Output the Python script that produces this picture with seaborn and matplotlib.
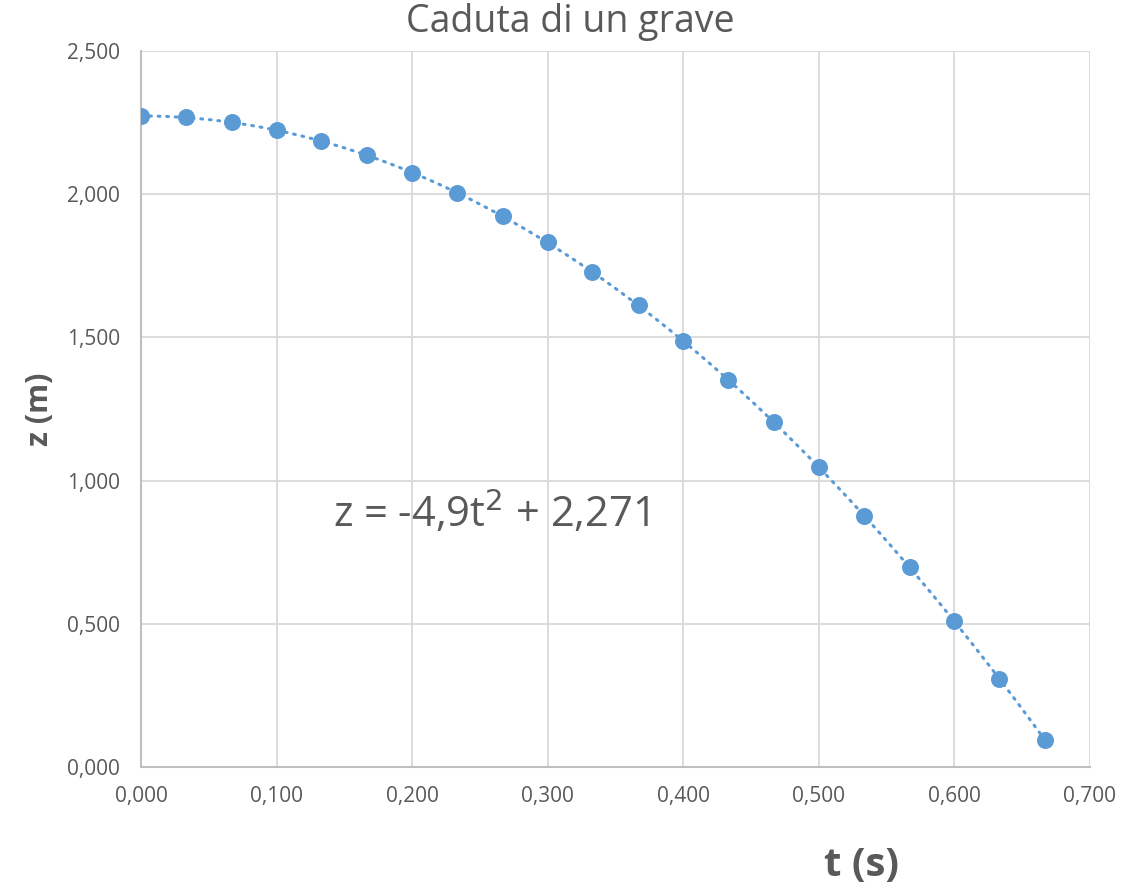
import numpy as np
import pandas as pd
import matplotlib
matplotlib.use("Agg")
import matplotlib.pyplot as plt
import seaborn as sns
from matplotlib.ticker import FuncFormatter

# data
t_s = [0.000, 0.033, 0.067, 0.100, 0.133, 0.167, 0.200, 0.233, 0.267, 0.300,
       0.333, 0.367, 0.400, 0.433, 0.467, 0.500, 0.533, 0.567, 0.600, 0.633, 0.667]
z_m = [2.273, 2.268, 2.251, 2.223, 2.185, 2.136, 2.075, 2.004, 1.923, 1.832,
       1.727, 1.612, 1.487, 1.352, 1.204, 1.046, 0.877, 0.698, 0.509, 0.307, 0.094]
x_ticks = [0.0, 0.1, 0.2, 0.3, 0.4, 0.5, 0.6, 0.7]
y_ticks = [0.0, 0.5, 1.0, 1.5, 2.0, 2.5]

df = pd.DataFrame({"t": t_s, "z": z_m})

sns.set_theme(style="white")
plt.rcParams['font.family'] = ['Open Sans', 'DejaVu Sans']

blue = "#5B9BD5"
text_col = "#595959"

fig = plt.figure(figsize=(11.4, 8.9), dpi=100)
ax = fig.add_axes([141/1140, 1 - 767/890, (1090-141)/1140, (767-51)/890])

# polynomial trendline (order 2), drawn dotted
coef = np.polyfit(df["t"], df["z"], 2)
tt = np.linspace(df["t"].min(), df["t"].max(), 200)
ax.plot(tt, np.polyval(coef, tt), color=blue, lw=2.2, ls=(0, (0.6, 2.2)),
        dash_capstyle="round", zorder=2)

sns.scatterplot(data=df, x="t", y="z", ax=ax, color=blue, s=150,
                edgecolor=blue, linewidth=0, zorder=3)

ax.set_xlim(0, 0.7)
ax.set_ylim(0, 2.5)
ax.set_xticks(x_ticks)
ax.set_yticks(y_ticks)
fmt = FuncFormatter(lambda v, p: f"{v:.3f}".replace(".", ","))
ax.xaxis.set_major_formatter(fmt)
ax.yaxis.set_major_formatter(fmt)
ax.tick_params(axis="both", labelsize=15, colors=text_col, length=0)
ax.tick_params(axis="x", pad=14)
ax.tick_params(axis="y", pad=15)
ax.grid(True, color="#D9D9D9", lw=1.3)
ax.set_axisbelow(True)
for side in ["top", "right"]:
    ax.spines[side].set_visible(False)
for side in ["left", "bottom"]:
    ax.spines[side].set_color("#BFBFBF")
    ax.spines[side].set_linewidth(1.5)

ax.set_xlabel("")
ax.set_ylabel("")

fig.text(570/1140, 1 - 22/890, "Caduta di un grave", ha="center", va="center",
         fontsize=27, color=text_col)
fig.text(40/1140, 1 - 409/890, "z (m)", rotation=90, ha="center", va="center",
         fontsize=22, fontweight="bold", color=text_col)
fig.text(862/1140, 1 - 866/890, "t (s)", ha="center", va="center",
         fontsize=29, fontweight="bold", color=text_col)
fig.text(333/1140, 1 - 513/890, r"z = -4,9t$^{2}$ + 2,271", ha="left", va="center",
         fontsize=30, color=text_col)

fig.savefig("out.png", dpi=100)
